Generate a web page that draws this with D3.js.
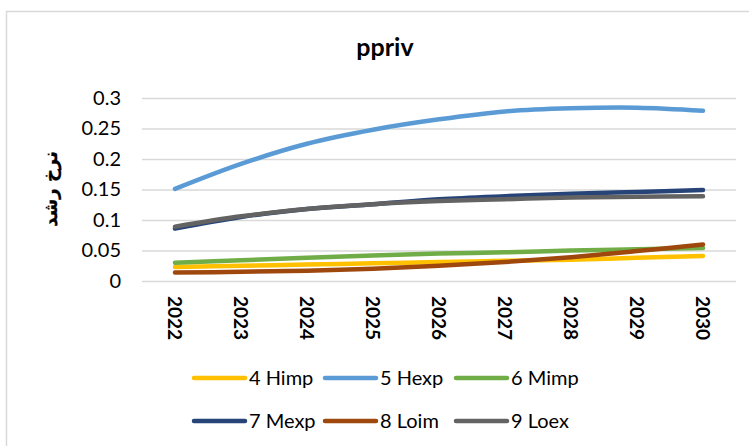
<!DOCTYPE html>
<html>
<head>
<meta charset="utf-8">
<script src="https://cdn.jsdelivr.net/npm/d3@7"></script>
<style>
  html, body { margin: 0; padding: 0; background: #fff; }
  svg { display: block; }
  text { font-family: Lato, "Open Sans", sans-serif; fill: #000; }
</style>
</head>
<body>
<svg id="chart" width="749" height="446"></svg>
<script>
// Growth rate projections by scenario, 2022–2030
const years = ["2022", "2023", "2024", "2025", "2026", "2027", "2028", "2029", "2030"];
const himp = [0.023, 0.025, 0.027, 0.029, 0.031, 0.033, 0.035, 0.038, 0.041];
const hexp = [0.151, 0.192, 0.225, 0.248, 0.265, 0.278, 0.283, 0.284, 0.279];
const mimp = [0.030, 0.034, 0.038, 0.042, 0.045, 0.047, 0.050, 0.052, 0.054];
const mexp = [0.086, 0.105, 0.118, 0.126, 0.134, 0.139, 0.143, 0.146, 0.149];
const loim = [0.014, 0.015, 0.017, 0.020, 0.025, 0.031, 0.039, 0.049, 0.060];
const loex = [0.089, 0.106, 0.118, 0.126, 0.131, 0.134, 0.137, 0.138, 0.139];
const yTicks = [0, 0.05, 0.1, 0.15, 0.2, 0.25, 0.3];
const seriesNames = ["4 Himp", "5 Hexp", "6 Mimp", "7 Mexp", "8 Loim", "9 Loex"];
const seriesColors = ["#FFC000", "#5B9BD5", "#70AD47", "#264478", "#9E480E", "#636363"];

const series = [himp, hexp, mimp, mexp, loim, loex].map((values, i) => ({
  name: seriesNames[i], color: seriesColors[i], values
}));

const svg = d3.select("#chart");

// outer chart frame
svg.append("rect")
  .attr("x", 6.5).attr("y", 11.5)
  .attr("width", 800).attr("height", 500)
  .attr("fill", "none").attr("stroke", "#d9d9d9").attr("stroke-width", 1.5);

const plot = { left: 142, right: 736, top: 98, bottom: 281 };

const x = d3.scaleBand().domain(years).range([plot.left, plot.right]);
const y = d3.scaleLinear().domain([0, 0.3]).range([plot.bottom, plot.top]);

// gridlines
const grid = svg.append("g")
  .attr("transform", `translate(${plot.left},0)`)
  .call(d3.axisLeft(y).tickValues(yTicks).tickSize(-(plot.right - plot.left)).tickFormat(""));
grid.select(".domain").remove();
grid.selectAll(".tick line").attr("stroke", "#d9d9d9").attr("stroke-width", 1.3);

// y tick labels
const yAxis = svg.append("g")
  .attr("transform", `translate(${plot.left - 21},0)`)
  .call(d3.axisLeft(y).tickValues(yTicks).tickSize(0).tickPadding(0).tickFormat(d3.format("")));
yAxis.select(".domain").remove();
yAxis.selectAll("text")
  .style("font-family", "Lato, sans-serif")
  .attr("font-size", 20).attr("fill", "#000");

// x tick labels, rotated
const xAxis = svg.append("g")
  .attr("transform", `translate(0,${plot.bottom})`)
  .call(d3.axisBottom(x).tickSize(0).tickPadding(0));
xAxis.select(".domain").remove();
xAxis.selectAll("text")
  .attr("transform", "translate(0,15) rotate(90)")
  .attr("x", 0).attr("y", 0).attr("dy", "0.35em")
  .attr("text-anchor", "start")
  .style("font-family", "Lato, sans-serif")
  .attr("font-size", 19).attr("font-weight", "bold").attr("fill", "#000");

// lines
const line = d3.line()
  .x((d, i) => x(years[i]) + x.bandwidth() / 2)
  .y(d => y(d))
  .curve(d3.curveCatmullRom.alpha(0.5));

svg.append("g").selectAll("path")
  .data(series)
  .join("path")
  .attr("d", d => line(d.values))
  .attr("fill", "none")
  .attr("stroke", d => d.color)
  .attr("stroke-width", 4.5)
  .attr("stroke-linecap", "round")
  .attr("stroke-linejoin", "round");

// title
svg.append("text")
  .attr("x", 385).attr("y", 56)
  .attr("text-anchor", "middle")
  .attr("font-size", 25).attr("font-weight", "bold")
  .text("ppriv");

// y axis title
svg.append("text")
  .attr("transform", "translate(57,189) rotate(-90)")
  .attr("text-anchor", "middle")
  .style("font-family", "'DejaVu Sans', sans-serif")
  .attr("font-size", 18).attr("font-weight", "bold")
  .attr("stroke", "#000").attr("stroke-width", 0.3)
  .attr("direction", "rtl")
  .text("نرخ رشد");

// legend
const legend = svg.append("g");
const item = legend.selectAll("g")
  .data(series)
  .join("g")
  .attr("transform", (d, i) => `translate(${194 + (i % 3) * 131},${i < 3 ? 378 : 421})`);
item.append("line")
  .attr("x1", 0).attr("x2", 51).attr("y1", 0).attr("y2", 0)
  .attr("stroke", d => d.color).attr("stroke-width", 4.5).attr("stroke-linecap", "round");
item.append("text")
  .attr("x", 55).attr("y", 0).attr("dy", "0.35em")
  .attr("font-size", 20)
  .text(d => d.name);
</script>
</body>
</html>
